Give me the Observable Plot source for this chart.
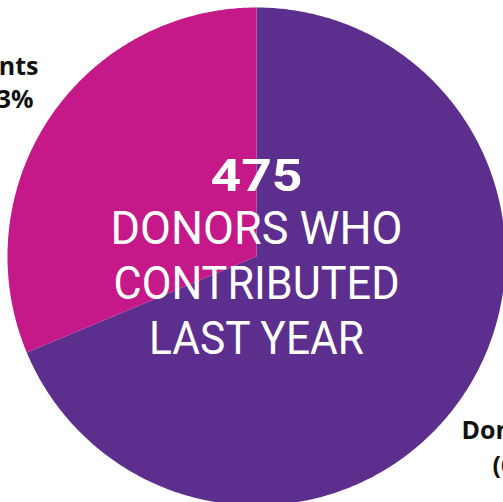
<!DOCTYPE html>
<html>
<head>
<meta charset="utf-8">
<script src="https://cdn.jsdelivr.net/npm/d3@7"></script>
<script src="https://cdn.jsdelivr.net/npm/@observablehq/plot@0.6"></script>
<style>
  html, body { margin: 0; padding: 0; background: #fff; overflow: hidden; }
  #chart svg { display: block; }
</style>
</head>
<body>
<div id="chart"></div>
<script>
// ---- data ----
const categories = ["Donors", "Parents"];
const shares = [68.7, 31.3];
const labelLine1 = ["Donors", "Parents"];
const labelLine2 = ["(67%)", "33%"];
const sliceColors = ["#5C2E8E", "#C51889"];
const centerNumber = "475";
const centerLines = ["DONORS WHO", "CONTRIBUTED", "LAST YEAR"];

// ---- layout ----
const W = 503, H = 502;
const cx = 256, cy = 256, R = 249;

const slices = categories.map((c, i) => ({ cat: c, value: shares[i] }));
const arcs = d3.pie().sort(null).value(d => d.value)(slices);

// polygon outline points for each slice (unit circle)
const pts = [];
for (const a of arcs) {
  const cat = a.data.cat;
  pts.push({ cat, x: 0, y: 0 });
  const n = Math.max(2, Math.ceil((a.endAngle - a.startAngle) / (Math.PI / 360)));
  for (let k = 0; k <= n; k++) {
    const t = a.startAngle + (a.endAngle - a.startAngle) * k / n;
    pts.push({ cat, x: Math.sin(t), y: -Math.cos(t) });
  }
  pts.push({ cat, x: 0, y: 0 });
}

const centerText = (txt, dy, size, weight) => Plot.text([txt], {
  x: () => 0, y: () => 0, text: d => d, dy,
  fill: "white", fontSize: size, fontWeight: weight,
  fontFamily: "Roboto", textAnchor: "middle", lineAnchor: "middle"
});

const labelText = (txt, dx, dy, anchor) => Plot.text([txt], {
  frameAnchor: "top-left", text: d => d, dx, dy,
  fill: "#111", fontSize: 25, fontWeight: "bold", fontFamily: "Open Sans",
  textAnchor: anchor, lineAnchor: "middle"
});

const plot = Plot.plot({
  width: W,
  height: H,
  margin: 0,
  x: { domain: [-cx / R, (W - cx) / R], range: [0, W], axis: null },
  y: { domain: [-cy / R, (H - cy) / R], range: [0, H], axis: null },
  color: { domain: categories, range: sliceColors },
  marks: [
    Plot.line(pts, { x: "x", y: "y", z: "cat", fill: "cat", stroke: null }),
    centerText(centerNumber, -80, 44, "bold"),
    centerText(centerLines[0], -27, 46, "normal"),
    centerText(centerLines[1], 28, 46, "normal"),
    centerText(centerLines[2], 83, 46, "normal"),
    labelText(labelLine1[1], 38, 66, "end"),
    labelText(labelLine2[1], 33, 99, "end"),
    labelText(labelLine1[0], 461, 430, "start"),
    labelText(labelLine2[0], 492, 465, "start")
  ]
});

// narrower lettering like the original typeface
const fitWidths = { [centerNumber]: 92, "DONORS WHO": 292, "CONTRIBUTED": 286, "LAST YEAR": 215 };
plot.querySelectorAll("text").forEach(t => {
  const w = fitWidths[t.textContent];
  if (w) {
    t.setAttribute("textLength", w);
    t.setAttribute("lengthAdjust", "spacingAndGlyphs");
  }
});

document.getElementById("chart").appendChild(plot);
</script>
</body>
</html>
